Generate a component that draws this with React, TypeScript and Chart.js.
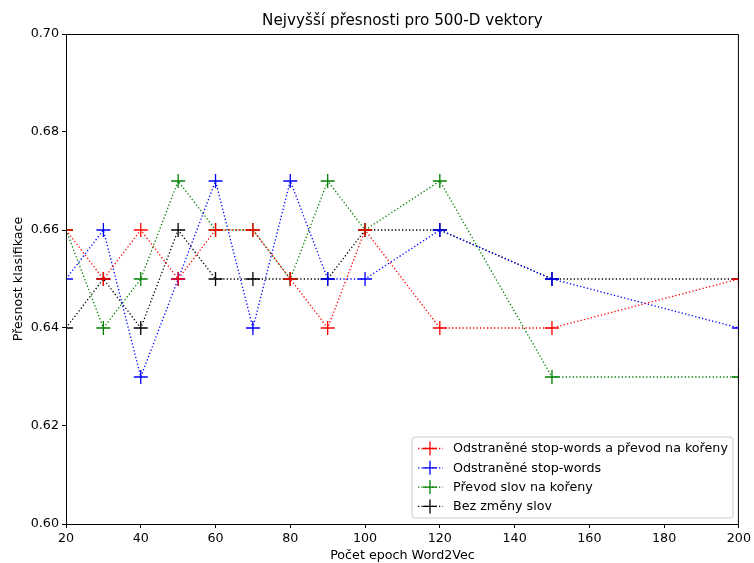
import React, { useEffect, useRef } from "react";
import { Chart, registerables } from "chart.js";

Chart.register(...registerables);

const epochs = [20, 30, 40, 50, 60, 70, 80, 90, 100, 120, 150, 200];
const stopAndStem = [0.66, 0.65, 0.66, 0.65, 0.66, 0.66, 0.65, 0.64, 0.66, 0.64, 0.64, 0.65];
const stopOnly = [0.65, 0.66, 0.63, 0.65, 0.67, 0.64, 0.67, 0.65, 0.65, 0.66, 0.65, 0.64];
const stemOnly = [0.66, 0.64, 0.65, 0.67, 0.66, 0.66, 0.65, 0.67, 0.66, 0.67, 0.63, 0.63];
const noChange = [0.64, 0.65, 0.64, 0.66, 0.65, 0.65, 0.65, 0.65, 0.66, 0.66, 0.65, 0.65];
const seriesNames = [
  "Odstraněné stop-words a převod na kořeny",
  "Odstraněné stop-words",
  "Převod slov na kořeny",
  "Bez změny slov",
];
const seriesColors = ["#ff0000", "#0000ff", "#008000", "#000000"];
const titleText = "Nejvyšší přesnosti pro 500-D vektory";
const xTitle = "Počet epoch Word2Vec";
const yTitle = "Přesnost klasifikace";

const FONT = "'DejaVu Sans', sans-serif";
const FS = 12.7;

export default function App() {
  const ref = useRef<HTMLCanvasElement | null>(null);
  useEffect(() => {
    document.body.style.margin = "0";
    const values = [stopAndStem, stopOnly, stemOnly, noChange];
    const datasets = values.map((v, i) => ({
      label: seriesNames[i],
      data: epochs.map((x, j) => ({ x, y: v[j] })),
      borderColor: seriesColors[i],
      backgroundColor: seriesColors[i],
      borderWidth: 1.3,
      borderDash: [1.3, 2.2],
      pointStyle: "cross" as const,
      pointRadius: 7,
      pointBorderWidth: 1.3,
      pointHoverRadius: 7,
      fill: false,
      tension: 0,
    }));

    const framePlugin = {
      id: "frame",
      afterDraw(chart: any) {
        const { ctx, chartArea } = chart;
        const { left, right, top, bottom } = chartArea;
        ctx.save();
        ctx.strokeStyle = "#000";
        ctx.lineWidth = 1;
        ctx.strokeRect(left + 0.5, top + 0.5, right - left - 1, bottom - top);
        // title
        ctx.fillStyle = "#000";
        ctx.font = `15.2px ${FONT}`;
        ctx.textAlign = "center";
        ctx.textBaseline = "middle";
        ctx.fillText(titleText, (left + right) / 2, 21);
        // legend
        const bx = 412, by = 437, bw = 321, bh = 81;
        ctx.fillStyle = "rgba(255,255,255,0.8)";
        ctx.strokeStyle = "#cccccc";
        ctx.beginPath();
        const r = 3;
        ctx.moveTo(bx + r, by);
        ctx.arcTo(bx + bw, by, bx + bw, by + bh, r);
        ctx.arcTo(bx + bw, by + bh, bx, by + bh, r);
        ctx.arcTo(bx, by + bh, bx, by, r);
        ctx.arcTo(bx, by, bx + bw, by, r);
        ctx.closePath();
        ctx.fill();
        ctx.stroke();
        ctx.font = `${FS}px ${FONT}`;
        ctx.textAlign = "left";
        seriesNames.forEach((name, i) => {
          const y = 448 + i * 19.3;
          ctx.strokeStyle = seriesColors[i];
          ctx.lineWidth = 1.3;
          ctx.setLineDash([1.3, 2.2]);
          ctx.beginPath();
          ctx.moveTo(418, y + 0.5);
          ctx.lineTo(443, y + 0.5);
          ctx.stroke();
          ctx.setLineDash([]);
          ctx.beginPath();
          ctx.moveTo(423, y + 0.5);
          ctx.lineTo(437, y + 0.5);
          ctx.moveTo(430, y - 6.5);
          ctx.lineTo(430, y + 7.5);
          ctx.stroke();
          ctx.fillStyle = "#000";
          ctx.fillText(name, 453, y + 1);
        });
        ctx.restore();
      },
    };

    const chart = new Chart(ref.current as HTMLCanvasElement, {
      type: "line",
      data: { datasets },
      options: {
        animation: false,
        responsive: false,
        devicePixelRatio: 1,
        layout: { padding: { left: 0, right: 15, top: 34, bottom: 0 } },
        plugins: { legend: { display: false }, tooltip: { enabled: false }, title: { display: false } },
        scales: {
          x: {
            type: "linear",
            min: 20,
            max: 200,
            ticks: { stepSize: 20, color: "#000", font: { family: FONT, size: FS }, padding: 3 },
            grid: { drawOnChartArea: false, tickLength: 4, color: "#000" },
            border: { color: "#000" },
            title: { display: true, text: xTitle, color: "#000", font: { family: FONT, size: FS }, padding: { top: 0, bottom: 0 } },
            afterFit(scale: any) { scale.height = 39; },
          },
          y: {
            min: 0.6,
            max: 0.7,
            ticks: {
              stepSize: 0.02,
              color: "#000",
              font: { family: FONT, size: FS },
              padding: 3,
              callback: (v: any) => Number(v).toFixed(2),
            },
            grid: { drawOnChartArea: false, tickLength: 4, color: "#000" },
            border: { color: "#000" },
            title: { display: true, text: yTitle, color: "#000", font: { family: FONT, size: FS }, padding: { top: 11, bottom: 0 } },
            afterFit(scale: any) { scale.width = 66; },
          },
        },
      },
      plugins: [framePlugin],
    } as any);
    return () => chart.destroy();
  }, []);
  return <canvas ref={ref} width={754} height={563} style={{ display: "block" }} />;
}
